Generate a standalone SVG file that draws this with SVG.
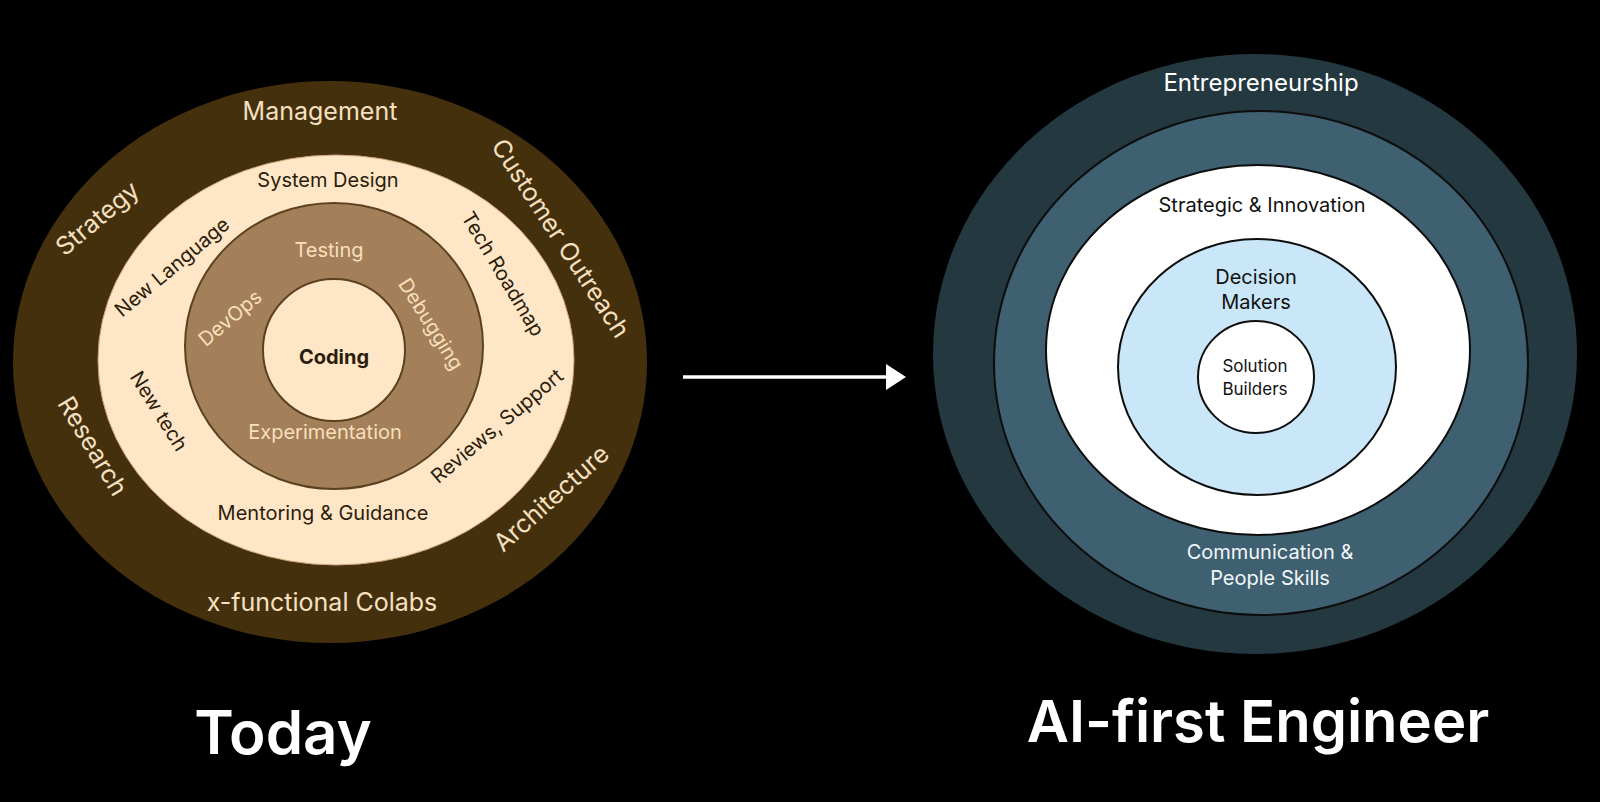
<svg xmlns="http://www.w3.org/2000/svg" width="1600" height="802" viewBox="0 0 1600 802">
  <defs>
    <style>
      text { font-family: Inter, "Open Sans", "Liberation Sans", sans-serif; text-anchor: middle; dominant-baseline: central; }
      .lo { fill: #f6e0c0; font-size: 25px; }
      .lc { fill: #2b1d0c; font-size: 20px; }
      .lm { fill: #f8dfbd; font-size: 20px; }
      .ro { fill: #ffffff; font-size: 24px; }
      .rd { fill: #111111; font-size: 20px; }
      .rs { fill: #111111; font-size: 17px; }
      .rw { fill: #f2f7fa; font-size: 20px; }
      .title { fill: #ffffff; font-weight: 600; }
      .rring { stroke: #0d0d0d; stroke-width: 2; }
    </style>
  </defs>
  <rect x="0" y="0" width="1600" height="802" fill="#000000"/>

  <!-- Left diagram: Today -->
  <g id="today-outer">
    <ellipse cx="330" cy="362" rx="317" ry="281" fill="#45300e"/>
    <text class="lo" x="320" y="111">Management</text>
    <text class="lo" transform="translate(97,218) rotate(-40)">Strategy</text>
    <text class="lo" transform="translate(561,238) rotate(57)">Customer Outreach</text>
    <text class="lo" transform="translate(93,446) rotate(59)">Research</text>
    <text class="lo" transform="translate(551,498) rotate(-42)">Architecture</text>
    <text class="lo" x="322" y="602">x-functional Colabs</text>
  </g>
  <g id="today-middle">
    <ellipse cx="336" cy="360" rx="238" ry="205" fill="#ffe6c7" stroke="#c9a578" stroke-width="1"/>
    <text class="lc" x="328" y="180">System Design</text>
    <text class="lc" transform="translate(172,267) rotate(-40)">New Language</text>
    <text class="lc" transform="translate(503,274) rotate(59)">Tech Roadmap</text>
    <text class="lc" transform="translate(159,411) rotate(58)">New tech</text>
    <text class="lc" transform="translate(497,426) rotate(-40)">Reviews, Support</text>
    <text class="lc" x="323" y="513">Mentoring &amp; Guidance</text>
  </g>
  <g id="today-inner">
    <ellipse cx="334" cy="346" rx="149" ry="143" fill="#a38059" stroke="#5b4120" stroke-width="2"/>
    <text class="lm" x="329" y="250">Testing</text>
    <text class="lm" transform="translate(230,318) rotate(-40)">DevOps</text>
    <text class="lm" transform="translate(431,324) rotate(58)">Debugging</text>
    <text class="lm" x="325" y="432">Experimentation</text>
  </g>
  <g id="today-core">
    <circle cx="334" cy="350" r="71" fill="#ffe6c7" stroke="#5b4120" stroke-width="2"/>
    <text x="334" y="357" fill="#2b1d0c" font-size="20" font-weight="700">Coding</text>
  </g>

  <!-- Connectors -->
  <g id="connectors">
    <line x1="683" y1="377" x2="889" y2="377" stroke="#ffffff" stroke-width="3.5"/>
    <polygon points="886,364 906,377 886,390" fill="#ffffff"/>
  </g>

  <!-- Right diagram: AI-first Engineer -->
  <g id="ai-outer">
    <ellipse cx="1255" cy="354" rx="322" ry="300" fill="#243840"/>
    <text class="ro" x="1261" y="82">Entrepreneurship</text>
  </g>
  <g id="ai-communication">
    <ellipse class="rring" cx="1261" cy="363" rx="267" ry="252" fill="#3e6070"/>
    <text class="rw" x="1270" y="552">Communication &amp;</text>
    <text class="rw" x="1270" y="578">People Skills</text>
  </g>
  <g id="ai-strategic">
    <ellipse class="rring" cx="1258" cy="350" rx="212" ry="185" fill="#ffffff"/>
    <text class="rd" x="1262" y="205">Strategic &amp; Innovation</text>
  </g>
  <g id="ai-decision">
    <ellipse class="rring" cx="1257" cy="367" rx="139" ry="128" fill="#c9e7f8"/>
    <text class="rd" x="1256" y="277">Decision</text>
    <text class="rd" x="1256" y="302">Makers</text>
  </g>
  <g id="ai-solution">
    <ellipse class="rring" cx="1256" cy="377" rx="58" ry="56" fill="#ffffff"/>
    <text class="rs" x="1255" y="366">Solution</text>
    <text class="rs" x="1255" y="389">Builders</text>
  </g>

  <!-- Titles -->
  <g id="titles">
    <text class="title" x="283" y="732" font-size="60">Today</text>
    <text class="title" x="1258" y="721" font-size="58">AI-first Engineer</text>
  </g>
</svg>
